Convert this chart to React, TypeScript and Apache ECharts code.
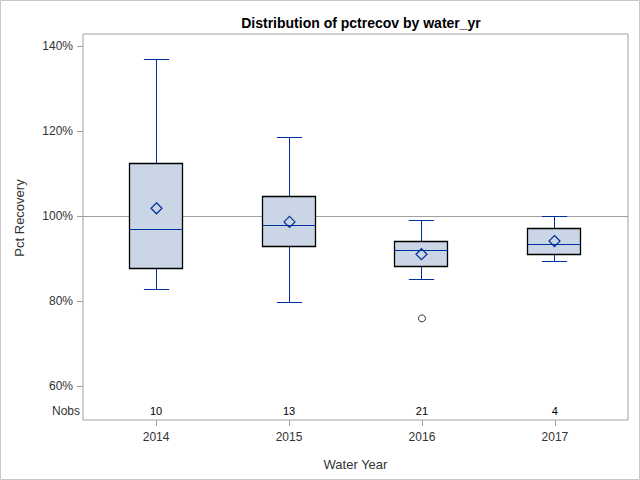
import React, { useEffect, useRef } from "react";
import * as echarts from "echarts";

const years = [2014, 2015, 2016, 2017];
const whiskerLow = [82.9, 79.8, 85.2, 89.5];
const q1 = [87.8, 93.0, 88.3, 91.1];
const median = [96.8, 97.8, 92.0, 93.5];
const q3 = [112.5, 104.6, 94.1, 97.1];
const whiskerHigh = [137.0, 118.6, 99.1, 100.0];
const means = [101.9, 98.7, 91.1, 94.2];
const nobs = [10, 13, 21, 4];
const outliers: [number, number][] = [[2016, 76.0]];
const yTicks = [60, 80, 100, 120, 140];
const refValue = 100;
const BOX_W = 0.4;
const CAP_W = 0.19;

const FONT = "'Liberation Sans', Arial, sans-serif";
const BLUE = "#00309c";

const px = (v: number) => Math.round(v - 0.5) + 0.5;

export default function App() {
  const ref = useRef<HTMLDivElement>(null);
  useEffect(() => {
    document.body.style.margin = "0";
    const chart = echarts.init(ref.current!, null, { renderer: "svg" });
    const boxData = years.map((y, i) => [y, whiskerLow[i], q1[i], median[i], q3[i], whiskerHigh[i], means[i]]);
    const option: any = {
      animation: false,
      backgroundColor: "#fff",
      textStyle: { fontFamily: FONT },
      grid: { left: 83, right: 12, top: 34, bottom: 60, show: true, borderColor: "#a0a0a0", borderWidth: 1, backgroundColor: "transparent" },
      title: {
        text: "Distribution of pctrecov by water_yr",
        left: 356,
        textAlign: "center",
        top: 11,
        textStyle: { fontFamily: FONT, fontSize: 14, fontWeight: "bold", color: "#000" },
      },
      xAxis: {
        type: "value",
        min: 2013.45,
        max: 2017.55,
        name: "Water Year",
        nameLocation: "middle",
        nameGap: 38,
        nameTextStyle: { fontFamily: FONT, fontSize: 13, color: "#333" },
        axisLine: { show: false },
        splitLine: { show: false },
        axisTick: { show: true, length: 6, lineStyle: { color: "#a0a0a0" }, customValues: years },
        axisLabel: { fontFamily: FONT, fontSize: 12, color: "#333", margin: 11, customValues: years, formatter: (v: number) => String(v) },
      },
      yAxis: {
        type: "value",
        min: 52.1,
        max: 142.9,
        axisLine: { show: false },
        splitLine: { show: false },
        axisTick: { show: true, length: 6, lineStyle: { color: "#a0a0a0" }, customValues: yTicks },
        axisLabel: { fontFamily: FONT, fontSize: 12, color: "#333", margin: 10, customValues: yTicks, formatter: (v: number) => v + "%" },
      },
      graphic: [
        { type: "rect", shape: { x: 0.5, y: 0.5, width: 639, height: 479 }, style: { fill: "none", stroke: "#c8c8c8", lineWidth: 1 }, silent: true },
        { type: "text", x: 19, y: 218, rotation: Math.PI / 2, style: { text: "Pct Recovery", font: `13px ${FONT}`, fill: "#333", textAlign: "center", textVerticalAlign: "middle" } },
        { type: "text", x: 80, y: 411, style: { text: "Nobs", font: `12px ${FONT}`, fill: "#333", textAlign: "right", textVerticalAlign: "middle" } },
      ],
      series: [
        {
          type: "custom",
          z: 1,
          silent: true,
          data: [[refValue]],
          renderItem: (params: any, api: any) => {
            const cs = params.coordSys;
            const ref = api.value(0);
            const yr = px(api.coord([years[0], ref])[1]);
            // segments of the reference line, interrupted where a box covers it
            const gaps: [number, number][] = [];
            years.forEach((y, i) => {
              if (q1[i] < ref && q3[i] > ref) {
                const c = api.coord([y, ref])[0];
                const hw = api.size([BOX_W, 0])[0] / 2;
                gaps.push([c - hw, c + hw]);
              }
            });
            const children: any[] = [];
            let start = cs.x;
            gaps.forEach(([a, b]) => {
              children.push({ type: "line", shape: { x1: start, y1: yr, x2: a, y2: yr }, style: { stroke: "#a0a0a0", lineWidth: 1 } });
              start = b;
            });
            children.push({ type: "line", shape: { x1: start, y1: yr, x2: cs.x + cs.width, y2: yr }, style: { stroke: "#a0a0a0", lineWidth: 1 } });
            return { type: "group", children };
          },
        },
        {
          type: "custom",
          z: 3,
          data: boxData,
          renderItem: (params: any, api: any) => {
            const x = api.value(0);
            const lo = api.coord([x, api.value(1)]);
            const b1 = api.coord([x, api.value(2)]);
            const md = api.coord([x, api.value(3)]);
            const b3 = api.coord([x, api.value(4)]);
            const hi = api.coord([x, api.value(5)]);
            const mn = api.coord([x, api.value(6)]);
            const bw = api.size([BOX_W, 0])[0];
            const cw = api.size([CAP_W, 0])[0];
            const cx = px(lo[0]);
            const yl = px(lo[1]), y1 = px(b1[1]), ym = px(md[1]), y3 = px(b3[1]), yh = px(hi[1]);
            const d = 5.5;
            const lineStyle = { stroke: BLUE, lineWidth: 1 };
            return {
              type: "group",
              children: [
                { type: "line", shape: { x1: cx, y1: yl, x2: cx, y2: y1 }, style: lineStyle },
                { type: "line", shape: { x1: cx, y1: y3, x2: cx, y2: yh }, style: lineStyle },
                { type: "line", shape: { x1: cx - cw / 2, y1: yl, x2: cx + cw / 2, y2: yl }, style: lineStyle },
                { type: "line", shape: { x1: cx - cw / 2, y1: yh, x2: cx + cw / 2, y2: yh }, style: lineStyle },
                { type: "rect", shape: { x: px(cx - bw / 2), y: y3, width: Math.round(bw), height: y1 - y3 }, style: { fill: "#cad5e5", stroke: "#000", lineWidth: 1.3 } },
                { type: "line", shape: { x1: cx - bw / 2, y1: ym, x2: cx + bw / 2, y2: ym }, style: { stroke: BLUE, lineWidth: 1 } },
                { type: "polygon", shape: { points: [[cx, mn[1] - d], [cx + d, mn[1]], [cx, mn[1] + d], [cx - d, mn[1]]] }, style: { fill: "none", stroke: BLUE, lineWidth: 1.2 } },
              ],
            };
          },
        },
        {
          type: "scatter",
          z: 4,
          data: outliers,
          symbol: "circle",
          symbolSize: 7,
          itemStyle: { color: "#fff", borderColor: "#000", borderWidth: 1 },
        },
        {
          type: "custom",
          z: 4,
          data: years.map((y, i) => [y, nobs[i]]),
          renderItem: (params: any, api: any) => {
            const p = api.coord([api.value(0), refValue]);
            const bottom = params.coordSys.y + params.coordSys.height;
            return {
              type: "text",
              x: p[0],
              y: bottom - 9,
              style: { text: String(api.value(1)), font: `11px ${FONT}`, fill: "#000", textAlign: "center", textVerticalAlign: "middle" },
            };
          },
        },
      ],
    };
    chart.setOption(option);
    return () => chart.dispose();
  }, []);
  return <div ref={ref} style={{ width: 640, height: 480 }} />;
}
